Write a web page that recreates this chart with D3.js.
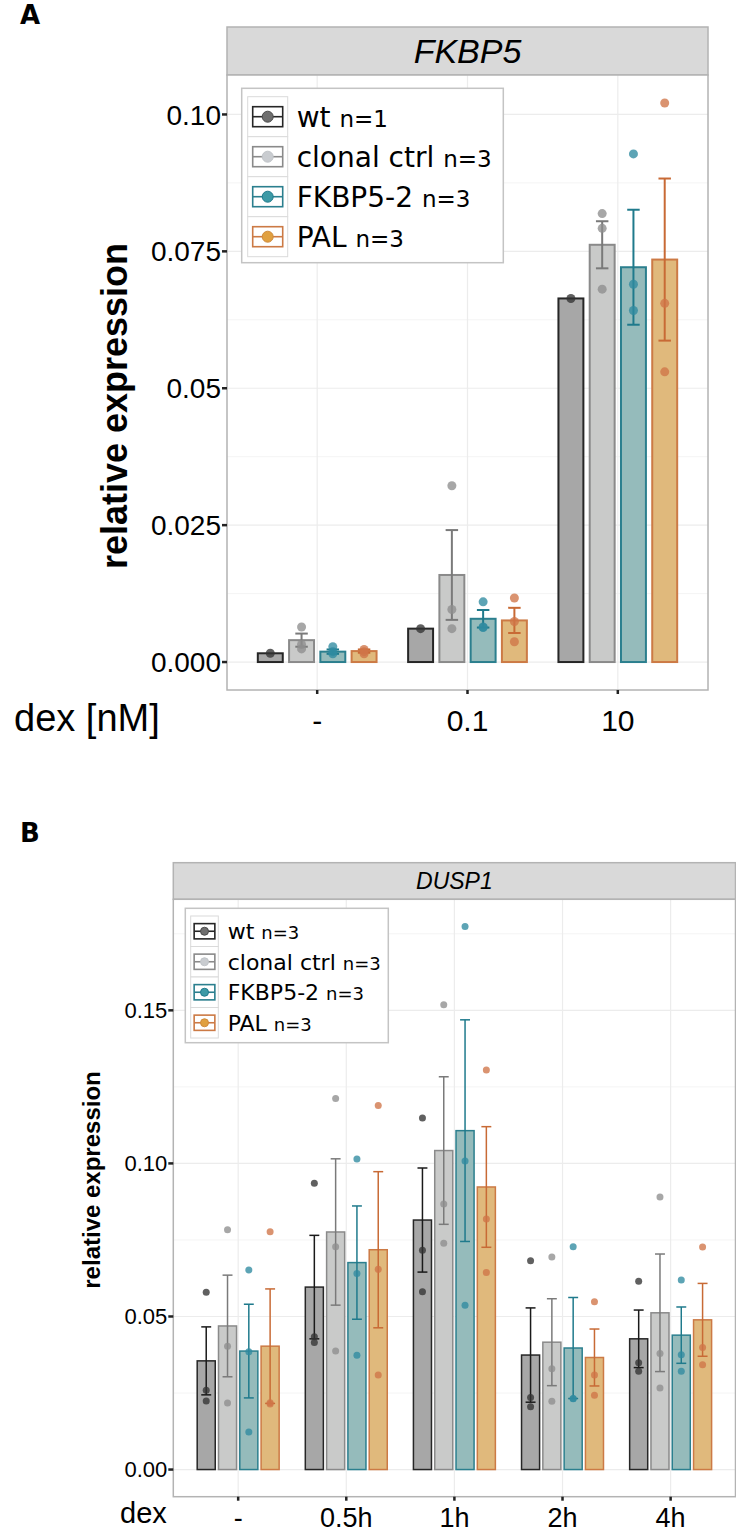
<!DOCTYPE html>
<html><head><meta charset="utf-8">
<script src="https://cdn.jsdelivr.net/npm/d3@7"></script>
<style>body{margin:0;background:#fff}svg{display:block}</style>
</head><body>
<svg id="c" width="736" height="1535"></svg>
<script>
// ---------- data ----------
const genotypes = ["wt", "clonal ctrl", "FKBP5-2", "PAL"];
const nLabelsA = ["n=1", "n=3", "n=3", "n=3"];
const nLabelsB = ["n=3", "n=3", "n=3", "n=3"];

const dexA = ["-", "0.1", "10"];
const dexB = ["-", "0.5h", "1h", "2h", "4h"];

const yTicksA = [0, 0.025, 0.05, 0.075, 0.1];
const yTickLabelsA = ["0.000", "0.025", "0.05", "0.075", "0.10"];
const yTicksB = [0, 0.05, 0.1, 0.15];
const yTickLabelsB = ["0.00", "0.05", "0.10", "0.15"];

// FKBP5 (panel A): rows = genotype, cols = dex
const fkbp5Means = [
  [0.0016, 0.0061, 0.0664],
  [0.0040, 0.0159, 0.0762],
  [0.0019, 0.0079, 0.0721],
  [0.0020, 0.0076, 0.0735]
];
const fkbp5SE = [
  [null, null, null],
  [0.0012, 0.0082, 0.0043],
  [0.0004, 0.0016, 0.0105],
  [0.0003, 0.0023, 0.0148]
];
const fkbp5Points = [
  [[0.0016], [0.0061], [0.0664]],
  [[0.0064, 0.0032, 0.0024], [0.0322, 0.0096, 0.0061], [0.0819, 0.0792, 0.0681]],
  [[0.0028, 0.0019, 0.0015], [0.0110, 0.0064, 0.0063], [0.0928, 0.0690, 0.0642]],
  [[0.0023, 0.0019, 0.0015], [0.0117, 0.0074, 0.0037], [0.1021, 0.0655, 0.0530]]
];

// DUSP1 (panel B)
const dusp1Means = [
  [0.0355, 0.0596, 0.0815, 0.0374, 0.0427],
  [0.0469, 0.0776, 0.1042, 0.0416, 0.0512],
  [0.0387, 0.0676, 0.1107, 0.0397, 0.0439],
  [0.0403, 0.0718, 0.0923, 0.0366, 0.0489]
];
const dusp1SE = [
  [0.0111, 0.0169, 0.0170, 0.0154, 0.0094],
  [0.0166, 0.0239, 0.0241, 0.0142, 0.0192],
  [0.0153, 0.0185, 0.0362, 0.0165, 0.0092],
  [0.0187, 0.0255, 0.0197, 0.0093, 0.0119]
];
const dusp1Points = [
  [[0.0579, 0.0259, 0.0224], [0.0935, 0.0434, 0.0415], [0.1148, 0.0716, 0.0581], [0.0682, 0.0235, 0.0205], [0.0615, 0.0349, 0.0321]],
  [[0.0783, 0.0403, 0.0217], [0.1212, 0.0728, 0.0387], [0.1518, 0.0867, 0.0739], [0.0694, 0.0329, 0.0223], [0.0890, 0.0379, 0.0266]],
  [[0.0652, 0.0385, 0.0123], [0.1014, 0.0640, 0.0373], [0.1774, 0.1008, 0.0537], [0.0728, 0.0231, 0.0232], [0.0619, 0.0375, 0.0321]],
  [[0.0777, 0.0218, 0.0214], [0.1189, 0.0654, 0.0309], [0.1305, 0.0818, 0.0644], [0.0548, 0.0309, 0.0243], [0.0727, 0.0399, 0.0342]]
];

// ---------- styles ----------
const barFill   = ["#a7a7a7", "#c9cac9", "#95bbbb", "#e0b97c"];
const barStroke = ["#262626", "#8a8a8a", "#2b7f8e", "#cc7a45"];
const errColor  = ["#1a1a1a", "#7a7a7a", "#1f7a8c", "#c86a35"];
const ptColor   = ["#333333", "#8e8e8e", "#2f8ba0", "#cf7448"];
const keyDot    = ["#6e6e6e", "#c9ccd0", "#3d9aa6", "#e0a040"];
const keyDotStroke = ["#4a4a4a", "#c0c4c8", "#1f7a8c", "#d08a3a"];

const svg = d3.select("#c");
const SANS = "'Liberation Sans', Arial, sans-serif";
const DEJA = "'DejaVu Sans', sans-serif";

function panel(cfg) {
  const g = svg.append("g");
  const {L, R, T, B, stripTop} = cfg;
  const x = d3.scalePoint().domain(cfg.cats).range([L, R]).padding(0.6);
  const step = x.step();
  const maxV = d3.max(cfg.points.flat(2).concat(
    cfg.means.flatMap((row, i) => row.map((m, j) => m + (cfg.se[i][j] || 0)))));
  const y = d3.scaleLinear().domain([-0.05 * maxV, 1.05 * maxV]).range([B, T]);
  const slot = step * cfg.slotFrac, bw = step * cfg.barFrac;
  const xOff = d3.scaleBand().domain(d3.range(genotypes.length))
    .range([-slot * 2, slot * 2]);
  const cx = (j, i) => x(cfg.cats[j]) + xOff(i) + slot / 2;

  // strip
  g.append("rect").attr("x", L).attr("y", stripTop).attr("width", R - L).attr("height", T - stripTop)
    .attr("fill", "#d9d9d9").attr("stroke", "#b3b3b3").attr("stroke-width", 1.5);
  g.append("text").attr("x", (L + R) / 2).attr("y", (T + stripTop) / 2)
    .attr("dy", "0.36em").attr("text-anchor", "middle")
    .attr("font-family", SANS).attr("font-style", "italic").attr("font-size", cfg.stripSize)
    .text(cfg.title);

  // panel bg + grid
  g.append("rect").attr("x", L).attr("y", T).attr("width", R - L).attr("height", B - T).attr("fill", "#fff");
  cfg.minor.forEach(v => g.append("line").attr("x1", L).attr("x2", R).attr("y1", y(v)).attr("y2", y(v))
    .attr("stroke", "#f4f4f4").attr("stroke-width", 1));
  cfg.ticks.forEach(v => g.append("line").attr("x1", L).attr("x2", R).attr("y1", y(v)).attr("y2", y(v))
    .attr("stroke", "#ececec").attr("stroke-width", 1.2));
  cfg.cats.forEach(c => g.append("line").attr("x1", x(c)).attr("x2", x(c)).attr("y1", T).attr("y2", B)
    .attr("stroke", "#ececec").attr("stroke-width", 1.2));

  // bars
  genotypes.forEach((gn, i) => {
    cfg.cats.forEach((c, j) => {
      const m = cfg.means[i][j];
      g.append("rect").attr("x", cx(j, i) - bw / 2).attr("y", y(m))
        .attr("width", bw).attr("height", y(0) - y(m))
        .attr("fill", barFill[i]).attr("stroke", barStroke[i]).attr("stroke-width", cfg.barSW);
    });
  });
  // error bars
  genotypes.forEach((gn, i) => {
    cfg.cats.forEach((c, j) => {
      const s = cfg.se[i][j];
      if (s == null) return;
      const m = cfg.means[i][j], xc = cx(j, i), cw = bw * cfg.capFrac / 2;
      const eg = g.append("g").attr("stroke", errColor[i]).attr("stroke-width", cfg.errSW).attr("fill", "none");
      eg.append("line").attr("x1", xc).attr("x2", xc).attr("y1", y(m + s)).attr("y2", y(m - s));
      eg.append("line").attr("x1", xc - cw).attr("x2", xc + cw).attr("y1", y(m + s)).attr("y2", y(m + s));
      eg.append("line").attr("x1", xc - cw).attr("x2", xc + cw).attr("y1", y(m - s)).attr("y2", y(m - s));
    });
  });
  // points
  genotypes.forEach((gn, i) => {
    cfg.cats.forEach((c, j) => {
      cfg.points[i][j].forEach(v => {
        g.append("circle").attr("cx", cx(j, i)).attr("cy", y(v)).attr("r", cfg.ptR)
          .attr("fill", ptColor[i]).attr("fill-opacity", 0.78);
      });
    });
  });

  // border
  g.append("rect").attr("x", L).attr("y", T).attr("width", R - L).attr("height", B - T)
    .attr("fill", "none").attr("stroke", "#b3b3b3").attr("stroke-width", 1.5);

  // y axis ticks + labels
  cfg.ticks.forEach((v, k) => {
    g.append("line").attr("x1", L - 5).attr("x2", L).attr("y1", y(v)).attr("y2", y(v))
      .attr("stroke", "#222").attr("stroke-width", 2.5);
    g.append("text").attr("x", L - 6).attr("y", y(v)).attr("dy", "0.36em").attr("text-anchor", "end")
      .attr("font-family", SANS).attr("font-size", cfg.yTickSize).attr("fill", "#000")
      .text(cfg.tickLabels[k]);
  });
  // x ticks + labels
  cfg.cats.forEach(c => {
    g.append("line").attr("x1", x(c)).attr("x2", x(c)).attr("y1", B).attr("y2", B + 4)
      .attr("stroke", "#222").attr("stroke-width", 2.5);
    g.append("text").attr("x", x(c)).attr("y", cfg.xLabY).attr("text-anchor", "middle")
      .attr("font-family", SANS).attr("font-size", cfg.xTickSize).text(c);
  });
  g.append("text").attr("x", cfg.dexX).attr("y", cfg.dexY).attr("font-family", SANS)
    .attr("font-size", cfg.dexSize).text(cfg.dexLabel);

  // y title
  g.append("text").attr("transform", `translate(${cfg.yTitleX},${cfg.yTitleY}) rotate(-90)`)
    .attr("text-anchor", "middle").attr("font-family", SANS).attr("font-weight", "bold")
    .attr("font-size", cfg.yTitleSize).text("relative expression");

  // legend
  const lg = cfg.legend;
  g.append("rect").attr("x", lg.x).attr("y", lg.y).attr("width", lg.w).attr("height", lg.h)
    .attr("fill", "#fff").attr("stroke", "#c4c4c4").attr("stroke-width", 1.5);
  genotypes.forEach((gn, i) => {
    const ky = lg.ky + i * lg.kh, kx = lg.kx;
    g.append("rect").attr("x", kx).attr("y", ky).attr("width", lg.kw).attr("height", lg.kh)
      .attr("fill", "#fff").attr("stroke", "#dadada").attr("stroke-width", 1);
    const rw = lg.kw * 0.75, rh = lg.kh * 0.5;
    const mx = kx + lg.kw / 2, my = ky + lg.kh / 2;
    g.append("rect").attr("x", mx - rw / 2).attr("y", my - rh / 2).attr("width", rw).attr("height", rh)
      .attr("fill", "#fff").attr("stroke", barStroke[i]).attr("stroke-width", 1.6);
    g.append("line").attr("x1", mx - rw / 2).attr("x2", mx + rw / 2).attr("y1", my).attr("y2", my)
      .attr("stroke", barStroke[i]).attr("stroke-width", 1.6);
    g.append("circle").attr("cx", mx).attr("cy", my).attr("r", lg.dotR)
      .attr("fill", keyDot[i]).attr("stroke", keyDotStroke[i]).attr("stroke-width", 1);
    const t = g.append("text").attr("x", lg.tx).attr("y", my).attr("dy", "0.36em")
      .attr("font-family", DEJA).attr("font-size", lg.fs);
    t.append("tspan").text(gn + " ");
    t.append("tspan").attr("font-size", lg.fsN).text(cfg.nLabels[i]);
  });
}

// panel labels
svg.append("text").attr("x", 20).attr("y", 24).attr("font-family", DEJA).attr("font-weight", "bold")
  .attr("font-size", 26).text("A");
svg.append("text").attr("x", 20).attr("y", 842).attr("font-family", DEJA).attr("font-weight", "bold")
  .attr("font-size", 26).text("B");

panel({
  title: "FKBP5", cats: dexA, means: fkbp5Means, se: fkbp5SE, points: fkbp5Points,
  L: 227, R: 708, T: 75, B: 690, stripTop: 27, stripSize: 34,
  slotFrac: 0.208, barFrac: 0.166, capFrac: 0.5, barSW: 2, errSW: 2, ptR: 4.5,
  ticks: yTicksA, tickLabels: yTickLabelsA, minor: [0.0125, 0.0375, 0.0625, 0.0875],
  yTickSize: 28, xTickSize: 30, xLabY: 731, dexLabel: "dex [nM]", dexX: 14, dexY: 731, dexSize: 38,
  yTitleX: 127, yTitleY: 406, yTitleSize: 36, nLabels: nLabelsA,
  legend: {x: 241.7, y: 88.3, w: 261.6, h: 174.4, kx: 247.7, ky: 96.7, kw: 40, kh: 40, dotR: 5.5,
           tx: 296.7, fs: 28, fsN: 23}
});

panel({
  title: "DUSP1", cats: dexB, means: dusp1Means, se: dusp1SE, points: dusp1Points,
  L: 173.3, R: 735.5, T: 899.3, B: 1496.7, stripTop: 862.7, stripSize: 23,
  slotFrac: 0.197, barFrac: 0.167, capFrac: 0.55, barSW: 1.5, errSW: 1.5, ptR: 3.5,
  ticks: yTicksB, tickLabels: yTickLabelsB, minor: [0.025, 0.075, 0.125, 0.175],
  yTickSize: 22, xTickSize: 27, xLabY: 1527, dexLabel: "dex", dexX: 120, dexY: 1523, dexSize: 29,
  yTitleX: 100, yTitleY: 1180, yTitleSize: 24, nLabels: nLabelsB,
  legend: {x: 185.3, y: 908.3, w: 203, h: 134.4, kx: 190.7, ky: 916, kw: 27.6, kh: 30.5, dotR: 4,
           tx: 227.7, fs: 22, fsN: 18}
});
</script>
</body></html>
